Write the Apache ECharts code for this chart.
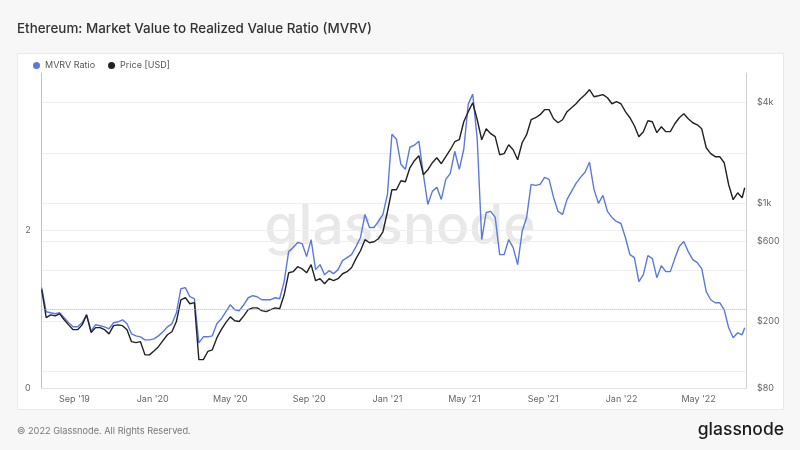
<!DOCTYPE html>
<html>
<head>
<meta charset="utf-8">
<script src="https://cdn.jsdelivr.net/npm/echarts@6/dist/echarts.min.js"></script>
<style>
html,body{margin:0;padding:0;background:#f7f7f7;}
#c{width:800px;height:450px;}
</style>
</head>
<body>
<div id="c"></div>
<script>
const dates = [
'2019-07-12','2019-07-19','2019-07-26','2019-08-02','2019-08-09','2019-08-16','2019-08-23','2019-08-30','2019-09-06','2019-09-13','2019-09-20','2019-09-27','2019-10-04','2019-10-11','2019-10-18','2019-10-25','2019-11-01','2019-11-08','2019-11-15','2019-11-22','2019-11-29','2019-12-06','2019-12-13','2019-12-20','2019-12-27',
'2020-01-03','2020-01-10','2020-01-17','2020-01-24','2020-01-31','2020-02-07','2020-02-14','2020-02-21','2020-02-28','2020-03-06','2020-03-13','2020-03-20','2020-03-27','2020-04-03','2020-04-10','2020-04-17','2020-04-24','2020-05-01','2020-05-08','2020-05-15','2020-05-22','2020-05-29','2020-06-05','2020-06-12','2020-06-19','2020-06-26','2020-07-03','2020-07-10','2020-07-17','2020-07-24','2020-07-31','2020-08-07','2020-08-14','2020-08-21','2020-08-28','2020-09-04','2020-09-11','2020-09-18','2020-09-25','2020-10-02','2020-10-09','2020-10-16','2020-10-23','2020-10-30','2020-11-06','2020-11-13','2020-11-20','2020-11-27','2020-12-04','2020-12-11','2020-12-18','2020-12-25',
'2021-01-01','2021-01-08','2021-01-15','2021-01-22','2021-01-29','2021-02-05','2021-02-12','2021-02-19','2021-02-26','2021-03-05','2021-03-12','2021-03-19','2021-03-26','2021-04-02','2021-04-09','2021-04-16','2021-04-23','2021-04-30','2021-05-07','2021-05-14','2021-05-21','2021-05-28','2021-06-04','2021-06-11','2021-06-18','2021-06-25','2021-07-02','2021-07-09','2021-07-16','2021-07-23','2021-07-30','2021-08-06','2021-08-13','2021-08-20','2021-08-27','2021-09-03','2021-09-10','2021-09-17','2021-09-24','2021-10-01','2021-10-08','2021-10-15','2021-10-22','2021-10-29','2021-11-05','2021-11-12','2021-11-19','2021-11-26','2021-12-03','2021-12-10','2021-12-17','2021-12-24','2021-12-31',
'2022-01-07','2022-01-14','2022-01-21','2022-01-28','2022-02-04','2022-02-11','2022-02-18','2022-02-25','2022-03-04','2022-03-11','2022-03-18','2022-03-25','2022-04-01','2022-04-08','2022-04-15','2022-04-22','2022-04-29','2022-05-06','2022-05-13','2022-05-20','2022-05-27','2022-06-03','2022-06-10','2022-06-17','2022-06-24','2022-07-01','2022-07-08','2022-07-12'
];
const priceUsd = [
308,210,218,215,221,204,190,178,178,190,218,171,183,183,178,168,188,190,188,178,151,149,151,126,126,
133,141,153,166,173,199,268,276,254,258,118,118,132,135,159,178,196,212,201,199,215,234,240,240,231,228,234,240,237,287,388,394,422,410,388,434,348,358,334,358,348,358,383,394,416,471,525,611,586,594,619,681,
896,1211,1211,1371,1352,1637,1803,1931,1489,1593,1754,1879,1730,1905,2096,2339,2404,3076,3531,3993,3162,2404,2793,2611,2506,1958,1986,2244,2096,1828,2307,2576,3162,3251,3388,3630,3630,3206,3034,3162,3531,3727,3936,4217,4457,4775,4335,4395,4457,4276,3936,4049,3936,
3531,3251,2912,2506,2685,3119,3076,2648,2872,2685,2685,2992,3251,3434,3206,3034,2951,2793,2153,1986,1905,1905,1754,1297,1057,1162,1086,1245
];
const mvrvRatio = [
1.274,0.968,0.955,0.943,0.955,0.892,0.828,0.777,0.777,0.828,0.930,0.726,0.803,0.790,0.777,0.752,0.828,0.841,0.866,0.815,0.688,0.662,0.650,0.611,0.611,
0.624,0.662,0.713,0.777,0.815,0.955,1.261,1.274,1.159,1.134,0.573,0.650,0.650,0.662,0.815,0.879,0.968,1.057,0.994,0.981,1.057,1.146,1.172,1.159,1.121,1.121,1.121,1.146,1.134,1.350,1.732,1.783,1.847,1.834,1.669,1.885,1.503,1.567,1.439,1.490,1.452,1.503,1.618,1.656,1.694,1.796,1.911,2.204,2.038,2.038,2.115,2.204,
2.459,3.223,3.159,2.841,2.777,3.057,3.083,3.134,2.713,2.331,2.497,2.548,2.395,2.650,2.726,3.006,2.777,3.032,3.605,3.732,3.159,1.885,2.229,2.242,2.166,1.694,1.694,1.885,1.783,1.567,1.987,2.166,2.586,2.573,2.586,2.675,2.650,2.420,2.242,2.204,2.395,2.497,2.599,2.675,2.739,2.866,2.522,2.344,2.446,2.242,2.166,2.115,2.089,
1.911,1.694,1.656,1.350,1.439,1.682,1.643,1.401,1.554,1.478,1.478,1.643,1.796,1.860,1.732,1.631,1.592,1.516,1.223,1.121,1.083,1.083,0.994,0.764,0.637,0.701,0.675,0.764
];
const xTickDates = ['2019-09-01','2020-01-01','2020-05-01','2020-09-01','2021-01-01','2021-05-01','2021-09-01','2022-01-01','2022-05-01'];
const xRange = ['2019-07-12', '2022-07-14'];
const mvrvTicks = [0, 2];
const priceTicks = [80, 200, 600, 1000, 4000];
const priceGridLines = [100, 200, 400, 600, 1000, 2000, 4000];
const mvrvThreshold = 1;
const MONTHS = ['Jan','Feb','Mar','Apr','May','Jun','Jul','Aug','Sep','Oct','Nov','Dec'];

const FONT = 'Inter, "Noto Sans", sans-serif';
const chart = echarts.init(document.getElementById('c'));

const toTime = s => Date.parse(s + 'T00:00:00Z');
function fmtDate(v) {
  const d = new Date(v);
  return MONTHS[d.getUTCMonth()] + " '" + String(d.getUTCFullYear()).slice(2);
}
function fmtPrice(v) {
  return '$' + (v >= 1000 ? (v / 1000) + 'k' : v);
}

const option = {
  backgroundColor: '#f7f7f7',
  animation: false,
  textStyle: { fontFamily: FONT },
  graphic: [
    { type: 'rect', z: -10, shape: { x: 17.5, y: 53.5, width: 766, height: 356 },
      style: { fill: '#ffffff', stroke: '#e9e9e9', lineWidth: 1 } },
    { type: 'text', z: -5, x: 400, y: 227,
      style: { text: 'glassnode', fontSize: 55, fontFamily: FONT, fontWeight: 500, fill: '#e8e8e8', align: 'center', verticalAlign: 'middle' } },
    { type: 'text', x: 17, y: 29,
      style: { text: 'Ethereum: Market Value to Realized Value Ratio (MVRV)', fontSize: 13.4, fontFamily: FONT, fontWeight: 500, fill: '#333333', align: 'left', verticalAlign: 'middle' } },
    { type: 'text', x: 17, y: 431,
      style: { text: '\u00a9 2022 Glassnode. All Rights Reserved.', fontSize: 9.2, fontFamily: FONT, fill: '#777777', align: 'left', verticalAlign: 'middle' } },
    { type: 'text', x: 784, y: 430,
      style: { text: 'glassnode', fontSize: 17.5, fontFamily: FONT, fontWeight: 500, fill: '#1c1c1c', align: 'right', verticalAlign: 'middle' } }
  ],
  legend: {
    left: 33, top: 61, padding: 0,
    icon: 'circle', itemWidth: 7, itemHeight: 7, itemGap: 13,
    textStyle: { fontSize: 9, color: '#555555', fontFamily: FONT },
    data: ['MVRV Ratio', 'Price [USD]']
  },
  grid: { left: 41.7, right: 54, top: 73, bottom: 62 },
  xAxis: {
    type: 'value',
    min: toTime(xRange[0]), max: toTime(xRange[1]),
    axisLine: { show: true, lineStyle: { color: '#e3e3e3' } },
    axisTick: { show: false },
    splitLine: { show: false },
    axisLabel: { customValues: xTickDates.map(toTime), formatter: fmtDate, color: '#666666', fontSize: 9, margin: 7, hideOverlap: false }
  },
  yAxis: [
    {
      type: 'value', position: 'left', min: 0, max: 4,
      axisLine: { show: true, lineStyle: { color: '#b4c0ee', width: 1 } },
      axisTick: { show: false, customValues: mvrvTicks },
      axisLabel: { customValues: mvrvTicks, color: '#666666', fontSize: 9, margin: 11, padding: [0, 0, 8, 0] },
      splitLine: { show: true, lineStyle: { color: '#efefef' } }
    },
    {
      type: 'log', logBase: 10, position: 'right', min: 80, max: 6000,
      axisLine: { show: true, lineStyle: { color: '#cfcfcf', width: 1 } },
      axisTick: { show: false, customValues: priceGridLines },
      axisLabel: { customValues: priceTicks, formatter: fmtPrice, color: '#666666', fontSize: 9, margin: 11, padding: [0, 0, 10, 0] },
      splitLine: { show: true, lineStyle: { color: '#efefef' } }
    }
  ],
  series: [
    {
      name: 'MVRV Ratio', type: 'line', yAxisIndex: 0,
      data: dates.map((d, i) => [toTime(d), mvrvRatio[i]]),
      showSymbol: false, color: '#5b79de',
      lineStyle: { width: 1.4, color: '#5b79de' },
      markLine: {
        silent: true, symbol: 'none', label: { show: false },
        lineStyle: { color: '#b3b3b3', type: 'dotted', width: 1 },
        data: [{ yAxis: mvrvThreshold }]
      }
    },
    {
      name: 'Price [USD]', type: 'line', yAxisIndex: 1,
      data: dates.map((d, i) => [toTime(d), priceUsd[i]]),
      showSymbol: false, color: '#222222',
      lineStyle: { width: 1.4, color: '#222222' }
    }
  ]
};
chart.setOption(option);
</script>
</body>
</html>
